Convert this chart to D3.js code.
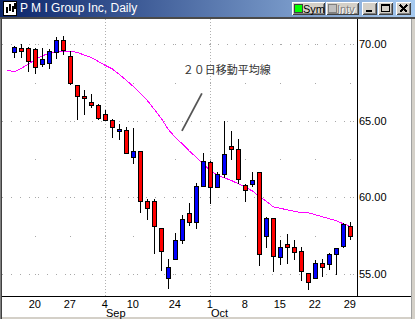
<!DOCTYPE html>
<html>
<head>
<meta charset="utf-8">
<script src="https://cdn.jsdelivr.net/npm/d3@7"></script>
<style>
  body { margin: 0; background: #d4d0c8; }
  svg { display: block; font-family: "Liberation Sans", Arial, sans-serif; }
</style>
</head>
<body>
<svg id="chart"></svg>
<script>
// trading days, first one only carries the moving average
const dates = [
  "2001-08-14", "2001-08-15", "2001-08-16", "2001-08-17", "2001-08-20", "2001-08-21", "2001-08-22",
  "2001-08-23", "2001-08-24", "2001-08-27", "2001-08-28", "2001-08-29", "2001-08-30", "2001-08-31",
  "2001-09-04", "2001-09-05", "2001-09-06", "2001-09-07", "2001-09-10", "2001-09-17", "2001-09-18",
  "2001-09-19", "2001-09-20", "2001-09-21", "2001-09-24", "2001-09-25", "2001-09-26", "2001-09-27",
  "2001-09-28", "2001-10-01", "2001-10-02", "2001-10-03", "2001-10-04", "2001-10-05", "2001-10-08",
  "2001-10-09", "2001-10-10", "2001-10-11", "2001-10-12", "2001-10-15", "2001-10-16", "2001-10-17",
  "2001-10-18", "2001-10-19", "2001-10-22", "2001-10-23", "2001-10-24", "2001-10-25", "2001-10-26",
  "2001-10-29"
];

const open = [null,
  69.50, 69.76, 69.76, 69.69, 68.72, 68.78, 69.50, 70.28, 69.24, 67.35,
  66.63, 66.24, 66.04, 65.46, 65.06, 64.35, 64.41, 62.65, 63.04, 59.78,
  59.78, 58.02, 54.76, 56.00, 57.24, 59.00, 58.41, 60.76, 62.33, 60.70,
  61.54, 63.37, 63.17, 60.83, 60.89, 61.67, 57.50, 58.67, 56.13, 56.98,
  56.78, 56.52, 55.09, 54.76, 55.74, 55.67, 56.33, 56.85, 58.15];
const high = [null,
  69.89, 70.02, 69.80, 69.76, 69.76, 69.69, 70.48, 70.54, 69.56, 67.35,
  67.02, 66.76, 66.08, 65.72, 65.13, 64.80, 64.63, 64.54, 63.04, 59.91,
  59.91, 58.02, 56.00, 57.70, 58.87, 59.65, 60.96, 62.91, 62.39, 61.67,
  65.00, 64.35, 63.83, 60.89, 61.67, 61.67, 58.74, 58.67, 57.24, 57.63,
  57.24, 56.78, 55.09, 55.93, 56.00, 56.39, 56.72, 58.35, 58.41];
const low = [null,
  69.17, 69.17, 68.26, 68.13, 68.59, 68.45, 69.11, 69.37, 67.41, 65.13,
  65.46, 65.91, 65.15, 65.06, 63.96, 63.83, 62.91, 62.26, 59.07, 58.61,
  56.39, 55.28, 54.11, 56.00, 57.04, 58.22, 58.02, 60.76, 59.65, 60.70,
  61.35, 62.52, 60.96, 59.78, 60.76, 55.61, 56.78, 55.22, 55.67, 55.74,
  56.00, 54.63, 54.05, 54.76, 54.89, 55.35, 55.02, 56.78, 57.30];
const close = [null,
  69.82, 69.56, 68.91, 68.52, 69.04, 69.56, 70.28, 69.63, 67.48, 66.63,
  66.50, 66.04, 65.19, 65.06, 64.61, 64.48, 62.91, 63.04, 59.78, 59.33,
  58.15, 56.52, 55.48, 57.24, 58.61, 58.41, 60.76, 62.39, 60.70, 61.54,
  62.85, 63.17, 61.22, 60.50, 61.15, 56.33, 58.67, 56.20, 56.78, 56.78,
  56.46, 55.22, 54.50, 55.74, 55.48, 56.33, 56.72, 58.28, 57.50];

// 20 day moving average
const ma20 = [
  68.32, 68.19, 68.42, 68.71, 69.01, 69.25, 69.41, 69.51, 69.56, 69.56,
  69.47, 69.30, 69.14, 68.88, 68.62, 68.39, 68.03, 67.65, 67.25, 66.79,
  66.33, 65.75, 65.16, 64.44, 63.92, 63.50, 63.03, 62.62, 62.19, 61.74,
  61.47, 61.28, 61.11, 60.89, 60.66, 60.43, 60.07, 59.75, 59.39, 59.29,
  59.19, 59.10, 59.00, 59.00, 58.87, 58.74, 58.61, 58.48, 58.28, 58.11];

const priceTicks = [55, 60, 65, 70];
const gridLevels = [55, 57.5, 60, 62.5, 65, 67.5, 70];
const weekTicks = ["2001-08-20", "2001-08-27", "2001-09-04", "2001-09-10", "2001-09-24",
  "2001-10-01", "2001-10-08", "2001-10-15", "2001-10-22", "2001-10-29"];
const monthStarts = ["2001-09-04", "2001-10-01"];
const monthNames = ["Sep", "Oct"];

const title = "P M I Group Inc, Daily";
const note = { text: "２０日移動平均線", textAt: [25.06, 68.03], from: [24.95, 64.35], to: [27.8, 66.8] };

const W = 415, H = 319;
const plot = { left: 2, right: 357, top: 19, bottom: 296 };

const svg = d3.select("#chart").attr("width", W).attr("height", H);

const x = d3.scaleLinear().domain([0, dates.length - 1]).range([7.3, 350.3]);
const y = d3.scaleLinear().domain([55, 70]).range([274, 44.3]);
const px = v => Math.round(v) + 0.5;
const idx = d => dates.indexOf(d);

// window frame
svg.append("rect").attr("width", W).attr("height", H).attr("fill", "#d4d0c8");
svg.append("rect").attr("x", 2).attr("y", 19).attr("width", 409).attr("height", 298).attr("fill", "#fff");
svg.append("rect").attr("x", 0).attr("y", 17).attr("width", 1).attr("height", 302).attr("fill", "#808080");
svg.append("rect").attr("x", 1).attr("y", 17).attr("width", 1).attr("height", 302).attr("fill", "#404040");
svg.append("rect").attr("x", 411).attr("y", 17).attr("width", 1).attr("height", 302).attr("fill", "#a0a0a0");

// title bar
const defs = svg.append("defs");
const grad = defs.append("linearGradient").attr("id", "tb");
grad.append("stop").attr("offset", "0%").attr("stop-color", "#0a246a");
grad.append("stop").attr("offset", "100%").attr("stop-color", "#a6caf0");
svg.append("rect").attr("width", W).attr("height", 17).attr("fill", "url(#tb)");
svg.append("rect").attr("y", 17).attr("width", W).attr("height", 2).attr("fill", "#4a4a4a");

const icon = svg.append("g").attr("transform", "translate(3,1)").attr("shape-rendering", "crispEdges");
icon.append("rect").attr("x", 0.5).attr("y", 0.5).attr("width", 13).attr("height", 14)
  .attr("fill", "#fff").attr("stroke", "#000");
[[3, 6, 12], [6, 3, 10], [9, 5, 11], [11, 2, 8]].forEach(b => {
  icon.append("line").attr("x1", b[0] + 0.5).attr("x2", b[0] + 0.5).attr("y1", b[1]).attr("y2", b[2])
    .attr("stroke", "#000").attr("stroke-width", 2);
});
svg.append("text").attr("x", 20).attr("y", 12).attr("fill", "#fff")
  .attr("font-size", 12).text(title);

function button(x0, w) {
  const g = svg.append("g").attr("shape-rendering", "crispEdges");
  g.append("rect").attr("x", x0).attr("y", 2).attr("width", w).attr("height", 13).attr("fill", "#d4d0c8");
  g.append("path").attr("d", `M${x0 + 0.5},${14.5}V${2.5}H${x0 + w - 0.5}`).attr("fill", "none").attr("stroke", "#fff");
  g.append("path").attr("d", `M${x0 + 0.5},${14.5}H${x0 + w - 0.5}V${2.5}`).attr("fill", "none").attr("stroke", "#404040");
  g.append("path").attr("d", `M${x0 + 1.5},${13.5}H${x0 + w - 1.5}V${3.5}`).attr("fill", "none").attr("stroke", "#808080");
  return g;
}
const sym = button(292, 33);
sym.append("rect").attr("x", 294.5).attr("y", 4.5).attr("width", 8).attr("height", 8)
  .attr("fill", "#00ff00").attr("stroke", "#404040");
sym.append("text").attr("x", 303).attr("y", 12.5).attr("font-size", 11).attr("fill", "#000").text("Sym");
const intv = button(326, 33);
intv.append("rect").attr("x", 328.5).attr("y", 4.5).attr("width", 8).attr("height", 8)
  .attr("fill", "#c0c0c0").attr("stroke", "#808080");
intv.append("text").attr("x", 338).attr("y", 13.5).attr("font-size", 11).attr("fill", "#fff").text("Intv");
intv.append("text").attr("x", 337).attr("y", 12.5).attr("font-size", 11).attr("fill", "#808080").text("Intv");
const minB = button(362, 15);
minB.append("rect").attr("x", 366).attr("y", 10).attr("width", 6).attr("height", 2).attr("fill", "#000");
const maxB = button(378, 15);
maxB.append("rect").attr("x", 381.5).attr("y", 4.5).attr("width", 8).attr("height", 7)
  .attr("fill", "none").attr("stroke", "#000");
maxB.append("rect").attr("x", 381).attr("y", 5).attr("width", 9).attr("height", 1).attr("fill", "#000");
const closeB = button(396, 15);
closeB.append("path").attr("d", "M400,5L407,12M407,5L400,12").attr("stroke", "#000").attr("stroke-width", 1.6);

// grid
const grid = svg.append("g").attr("shape-rendering", "crispEdges");
grid.selectAll(".hgrid").data(priceTicks).enter().append("line")
  .attr("x1", plot.left).attr("x2", plot.right)
  .attr("y1", d => px(y(d))).attr("y2", d => px(y(d)))
  .attr("stroke", "#a8a8a8").attr("stroke-dasharray", "1,8");
weekTicks.forEach(w => {
  grid.selectAll(null).data(gridLevels).enter().append("rect")
    .attr("x", Math.round(x(idx(w)))).attr("y", d => Math.round(y(d)))
    .attr("width", 1).attr("height", 1).attr("fill", "#a8a8a8");
});
grid.selectAll(".mgrid").data(monthStarts).enter().append("line")
  .attr("x1", d => px(x(idx(d)))).attr("x2", d => px(x(idx(d))))
  .attr("y1", plot.top).attr("y2", plot.bottom)
  .attr("stroke", "#b0b0b0").attr("stroke-dasharray", "1,2");

// moving average
const maLine = d3.line().x((d, i) => x(i)).y(d => y(d));
svg.append("path").datum(ma20)
  .attr("fill", "none").attr("stroke", "#ff00ff").attr("stroke-width", 1)
  .attr("shape-rendering", "crispEdges")
  .attr("d", maLine);

// candles
const candles = d3.range(1, dates.length);
const cg = svg.append("g").attr("shape-rendering", "crispEdges");
cg.selectAll(".wick").data(candles).enter().append("line")
  .attr("x1", i => px(x(i))).attr("x2", i => px(x(i)))
  .attr("y1", i => Math.round(y(high[i]))).attr("y2", i => Math.round(y(low[i])) + 1)
  .attr("stroke", "#000");
cg.selectAll(".body").data(candles).enter().append("rect")
  .attr("x", i => px(x(i)) - 2)
  .attr("y", i => px(y(Math.max(open[i], close[i]))))
  .attr("width", 4)
  .attr("height", i => Math.max(1, Math.round(y(Math.min(open[i], close[i]))) - Math.round(y(Math.max(open[i], close[i])))))
  .attr("fill", i => close[i] > open[i] ? "#0000ff" : "#ff0000")
  .attr("stroke", "#000");

// axes
svg.append("line").attr("x1", plot.right + 0.5).attr("x2", plot.right + 0.5)
  .attr("y1", plot.top).attr("y2", plot.bottom).attr("stroke", "#000");
svg.append("line").attr("x1", plot.left).attr("x2", 411)
  .attr("y1", plot.bottom + 0.5).attr("y2", plot.bottom + 0.5).attr("stroke", "#000");

const yAxis = svg.append("g").attr("transform", `translate(${plot.right},0)`)
  .call(d3.axisRight(y).tickValues(priceTicks).tickFormat(d3.format(".2f")).tickSize(0).tickPadding(2));
yAxis.select(".domain").remove();
yAxis.selectAll("text").attr("font-size", 11).attr("font-family", "Liberation Sans, Arial, sans-serif").attr("fill", "#000");

const xAxis = svg.append("g").attr("transform", `translate(0,${plot.bottom})`)
  .call(d3.axisBottom(x).tickValues(weekTicks.map(idx))
    .tickFormat(i => String(+dates[i].slice(8))).tickSize(0).tickPadding(4));
xAxis.select(".domain").remove();
xAxis.selectAll("text").attr("font-size", 11).attr("font-family", "Liberation Sans, Arial, sans-serif")
  .attr("fill", "#000").attr("dx", -1);

svg.selectAll(".month").data(monthStarts).enter().append("text")
  .attr("x", d => Math.round(x(idx(d))) + 1).attr("y", 317)
  .attr("font-size", 11).attr("fill", "#000")
  .text((d, i) => monthNames[i]);

// annotation
svg.append("line")
  .attr("x1", x(note.from[0])).attr("y1", y(note.from[1]))
  .attr("x2", x(note.to[0])).attr("y2", y(note.to[1]))
  .attr("stroke", "#555").attr("stroke-width", 1.8);
svg.append("text")
  .attr("x", x(note.textAt[0])).attr("y", y(note.textAt[1]))
  .attr("font-family", "Noto Sans CJK JP, sans-serif").attr("font-size", 11)
  .attr("fill", "#333").text(note.text);
</script>
</body>
</html>
